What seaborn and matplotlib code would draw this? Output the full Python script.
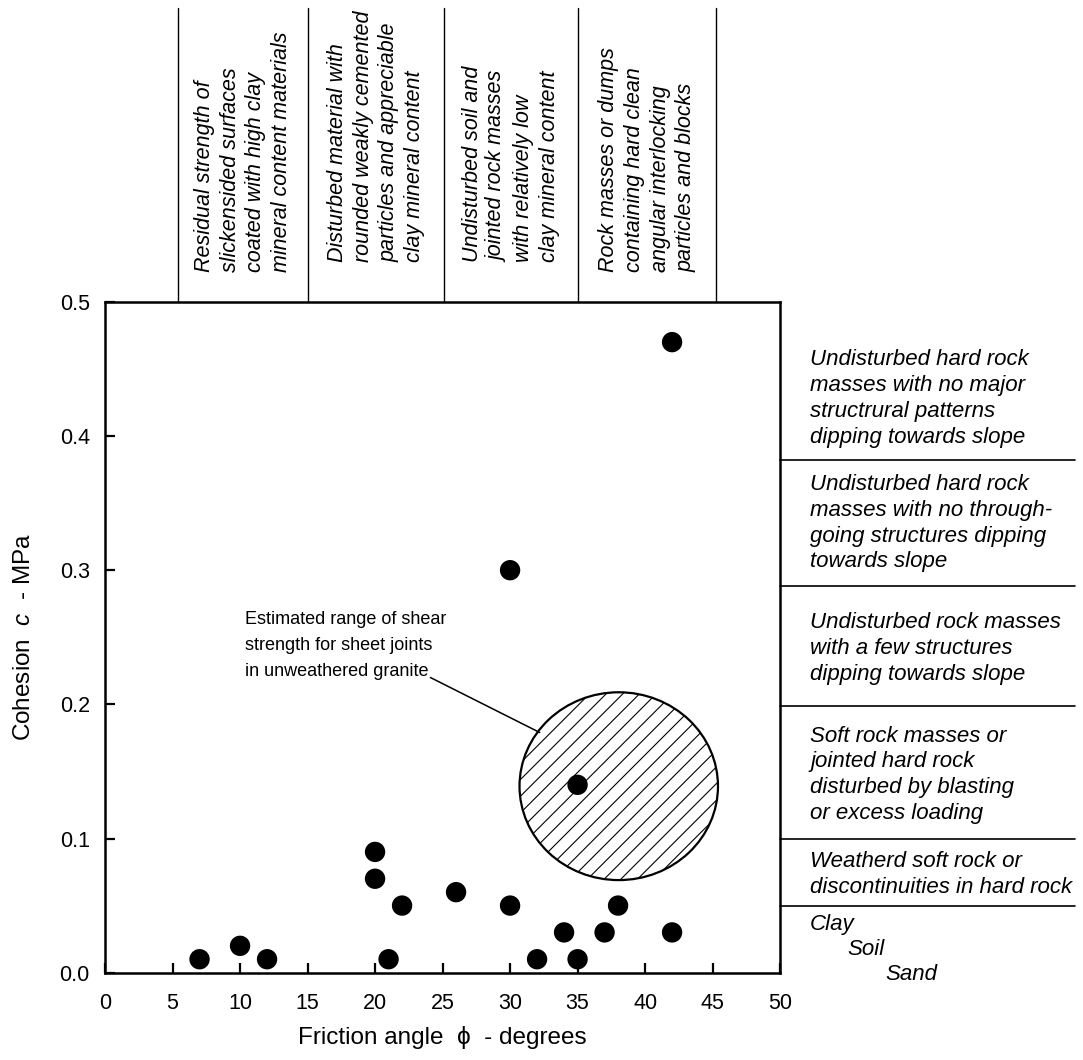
import matplotlib
matplotlib.use("Agg")
import matplotlib.pyplot as plt
from matplotlib.patches import Ellipse
import pandas as pd
import seaborn as sns

# friction angle (deg) and cohesion (MPa) of the plotted points
phi = [7, 10, 12, 20, 20, 21, 22, 26, 30, 30, 32, 34, 35, 35, 37, 38, 42, 42]
coh = [0.01, 0.02, 0.01, 0.09, 0.07, 0.01, 0.05, 0.06, 0.05, 0.30,
       0.01, 0.03, 0.01, 0.14, 0.03, 0.05, 0.03, 0.47]

# granite sheet joint range (centre phi, centre c, width, height)
granite = (38.05, 0.139, 14.7, 0.14)

# material classes along the top (column boundaries in degrees)
top_bounds = [5.4, 15.05, 25.1, 35.05, 45.25]
top_labels = [
    "Residual strength of\nslickensided surfaces\ncoated with high clay\nmineral content materials",
    "Disturbed material with\nrounded weakly cemented\nparticles and appreciable\nclay mineral content",
    "Undisturbed soil and\njointed rock masses\nwith relatively low\nclay mineral content",
    "Rock masses or dumps\ncontaining hard clean\nangular interlocking\nparticles and blocks",
]
top_label_base = [1.0447, 1.0597, 1.0597, 1.0447]

# rock mass classes along the right side (boundaries in MPa)
right_bounds = [0.382, 0.288, 0.199, 0.0995, 0.05]
right_labels = [
    "Undisturbed hard rock\nmasses with no major\nstructrural patterns\ndipping towards slope",
    "Undisturbed hard rock\nmasses with no through-\ngoing structures dipping\ntowards slope",
    "Undisturbed rock masses\nwith a few structures\ndipping towards slope",
    "Soft rock masses or\njointed hard rock\ndisturbed by blasting\nor excess loading",
    "Weatherd soft rock or\ndiscontinuities in hard rock",
]
right_label_y = [0.428, 0.335, 0.2416, 0.1475, 0.073]
soil_labels = ["Clay", "Soil", "Sand"]
soil_y = [0.0356, 0.017, -0.0017]

sns.set_style("ticks")
plt.rcParams["font.family"] = ["Liberation Sans", "DejaVu Sans"]
plt.rcParams["mathtext.fontset"] = "custom"
plt.rcParams["mathtext.it"] = "Liberation Sans:italic"
plt.rcParams["mathtext.rm"] = "Liberation Sans"
plt.rcParams["hatch.linewidth"] = 0.8
for k in ["text.color", "axes.labelcolor", "xtick.color", "ytick.color", "axes.edgecolor"]:
    plt.rcParams[k] = "black"

df = pd.DataFrame({"phi": phi, "c": coh})

fig = plt.figure(figsize=(10.83, 10.60), dpi=100)
ax = fig.add_axes([0.097, 0.0824, 0.6233, 0.6328])

ell = Ellipse((granite[0], granite[1]), granite[2], granite[3],
              facecolor="none", edgecolor="black", hatch="//", lw=1.6, zorder=2)
ax.add_patch(ell)

sns.scatterplot(data=df, x="phi", y="c", color="black", s=215,
                edgecolor="none", ax=ax, zorder=3, legend=False)

ax.set_xlim(0, 50)
ax.set_ylim(0, 0.5)
ax.set_xticks(range(0, 51, 5))
ax.set_yticks([0, 0.1, 0.2, 0.3, 0.4, 0.5])
ax.set_yticklabels(["0.0", "0.1", "0.2", "0.3", "0.4", "0.5"])
ax.tick_params(direction="in", length=7, width=1.6, labelsize=15.5)
ax.tick_params(axis="x", pad=15)
ax.tick_params(axis="y", pad=11)
for s in ax.spines.values():
    s.set_linewidth(1.8)
    s.set_visible(True)

ax.set_xlabel("Friction angle  \u03d5  - degrees", fontsize=17.5, labelpad=8)
ax.set_ylabel("Cohesion  $c$  - MPa", fontsize=17.5, labelpad=18)

# annotation for the hatched area
ax.text(10.4, 0.2436, "Estimated range of shear\nstrength for sheet joints\nin unweathered granite",
        fontsize=13, ha="left", va="center", linespacing=1.7)
ax.plot([24.1, 32.2], [0.22, 0.179], color="black", lw=1.1, zorder=2)

# top classification columns
xt = ax.get_xaxis_transform()
for xb in top_bounds:
    ax.plot([xb, xb], [1.0, 1.438], transform=xt, color="black", lw=1.0, clip_on=False)
for i, lab in enumerate(top_labels):
    xm = (top_bounds[i] + top_bounds[i + 1]) / 2
    ax.text(xm, top_label_base[i], lab, transform=xt, rotation=90, ha="center", va="bottom",
            multialignment="left", fontsize=15.5, style="italic", linespacing=1.3)

# right classification rows
yt = ax.get_yaxis_transform()
for yb in right_bounds:
    ax.plot([1.0, 1.437], [yb, yb], transform=yt, color="black", lw=1.2, clip_on=False)
for lab, yy in zip(right_labels, right_label_y):
    ax.text(1.0444, yy, lab, transform=yt, ha="left", va="center",
            fontsize=16, style="italic", linespacing=1.3)
for k, (lab, yy) in enumerate(zip(soil_labels, soil_y)):
    ax.text(1.0444 + k * 0.056, yy, lab, transform=yt, ha="left", va="center",
            fontsize=16, style="italic")

fig.savefig("out.png", dpi=100)
